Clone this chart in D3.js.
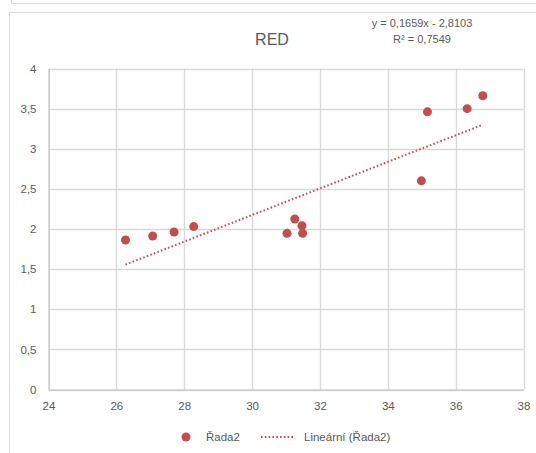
<!DOCTYPE html>
<html>
<head>
<meta charset="utf-8">
<script src="https://cdn.jsdelivr.net/npm/d3@7"></script>
<style>
  body { margin: 0; background: #fff; }
  svg { display: block; font-family: "Liberation Sans", Arial, sans-serif; }
</style>
</head>
<body>
<div id="chart"></div>
<script>
// data
var xValues = [26.27, 27.07, 27.70, 28.28, 31.03, 31.26, 31.47, 31.49, 34.99, 35.17, 36.34, 36.80];
var yValues = [1.863, 1.913, 1.963, 2.03, 1.946, 2.125, 2.04, 1.946, 2.60, 3.46, 3.50, 3.66];
var xTicks = [24, 26, 28, 30, 32, 34, 36, 38];
var yTicks = [0, 0.5, 1, 1.5, 2, 2.5, 3, 3.5, 4];
var seriesName = 'Řada2';
var trendName = 'Lineární (Řada2)';
var titleText = 'RED';
var equationLines = ['y = 0,1659x - 2,8103', 'R² = 0,7549'];

var width = 536, height = 453;
var plot = { left: 48.5, right: 523.5, top: 68.5, bottom: 389.5 };
var red = '#c0504d', textColor = '#595959', gridColor = '#d9d9d9';

var fmt = function (d) { return String(d).replace('.', ','); };

var xScale = d3.scaleLinear().domain([24, 38]).range([plot.left, plot.right]);
var yScale = d3.scaleLinear().domain([0, 4]).range([plot.bottom, plot.top]);

var svg = d3.select('#chart').append('svg')
    .attr('width', width)
    .attr('height', height);

// outer frames (the one above is a neighbouring chart's bottom edge)
svg.append('path')
    .attr('d', 'M11.5,0 V3.5 H' + width)
    .attr('fill', 'none').attr('stroke', gridColor);
svg.append('path')
    .attr('d', 'M9.5,' + height + ' V12.5 H' + width)
    .attr('fill', 'none').attr('stroke', gridColor);

// gridlines
var grid = svg.append('g').attr('class', 'grid');
grid.selectAll('line.gx').data(xTicks).enter().append('line')
    .attr('x1', function (d) { return Math.round(xScale(d)) + 0.5; })
    .attr('x2', function (d) { return Math.round(xScale(d)) + 0.5; })
    .attr('y1', plot.top).attr('y2', plot.bottom)
    .attr('stroke', gridColor).attr('stroke-width', 1.3);
grid.selectAll('line.gy').data(yTicks).enter().append('line')
    .attr('x1', plot.left).attr('x2', plot.right)
    .attr('y1', function (d) { return Math.round(yScale(d)) + 0.5; })
    .attr('y2', function (d) { return Math.round(yScale(d)) + 0.5; })
    .attr('stroke', gridColor).attr('stroke-width', 1.3);

// axes, only labels shown
var xAxis = d3.axisBottom(xScale).tickValues(xTicks).tickSize(0).tickPadding(12);
var yAxis = d3.axisLeft(yScale).tickValues(yTicks).tickSize(0).tickPadding(12).tickFormat(fmt);

var xAxisEl = svg.append('g')
    .attr('transform', 'translate(0,' + plot.bottom + ')')
    .call(xAxis);
var yAxisEl = svg.append('g')
    .attr('transform', 'translate(' + plot.left + ',0)')
    .call(yAxis);
[xAxisEl, yAxisEl].forEach(function (a) {
  a.select('.domain').attr('stroke', '#bfbfbf');
  a.selectAll('text').attr('fill', textColor).style('font-size', '11.5px').style('font-family', 'inherit');
});

// linear trend from least squares
var n = xValues.length;
var mx = d3.mean(xValues), my = d3.mean(yValues);
var sxy = d3.sum(xValues, function (x, i) { return (x - mx) * (yValues[i] - my); });
var sxx = d3.sum(xValues, function (x) { return (x - mx) * (x - mx); });
var slope = sxy / sxx, intercept = my - slope * mx;
var xExt = d3.extent(xValues);

svg.append('line')
    .attr('x1', xScale(xExt[0])).attr('y1', yScale(slope * xExt[0] + intercept))
    .attr('x2', xScale(xExt[1])).attr('y2', yScale(slope * xExt[1] + intercept))
    .attr('stroke', red).attr('stroke-width', 2)
    .attr('stroke-dasharray', '1.6,2.2');

// dots
var points = xValues.map(function (x, i) { return [x, yValues[i]]; });
svg.selectAll('.dot').data(points).enter().append('circle')
    .attr('class', 'dot')
    .attr('cx', function (d) { return xScale(d[0]); })
    .attr('cy', function (d) { return yScale(d[1]); })
    .attr('r', 4.5)
    .attr('fill', red);

// title and equation
svg.append('text')
    .attr('x', 272).attr('y', 45)
    .attr('text-anchor', 'middle')
    .attr('fill', textColor)
    .style('font-size', '16px')
    .text(titleText);

svg.selectAll('.eq').data(equationLines).enter().append('text')
    .attr('class', 'eq')
    .attr('x', 422)
    .attr('y', function (d, i) { return 27 + i * 16; })
    .attr('text-anchor', 'middle')
    .attr('fill', textColor)
    .style('font-size', '11px')
    .text(function (d) { return d; });

// legend
var legend = svg.append('g').attr('transform', 'translate(0,437)');
legend.append('circle').attr('cx', 186).attr('cy', 0).attr('r', 4.5).attr('fill', red);
legend.append('text').attr('x', 206).attr('y', 4)
    .attr('fill', textColor).style('font-size', '11.5px').text(seriesName);
legend.append('line')
    .attr('x1', 261).attr('x2', 294).attr('y1', 0).attr('y2', 0)
    .attr('stroke', red).attr('stroke-width', 2).attr('stroke-dasharray', '1.6,2.2');
legend.append('text').attr('x', 304).attr('y', 4)
    .attr('fill', textColor).style('font-size', '11.5px').text(trendName);
</script>
</body>
</html>
